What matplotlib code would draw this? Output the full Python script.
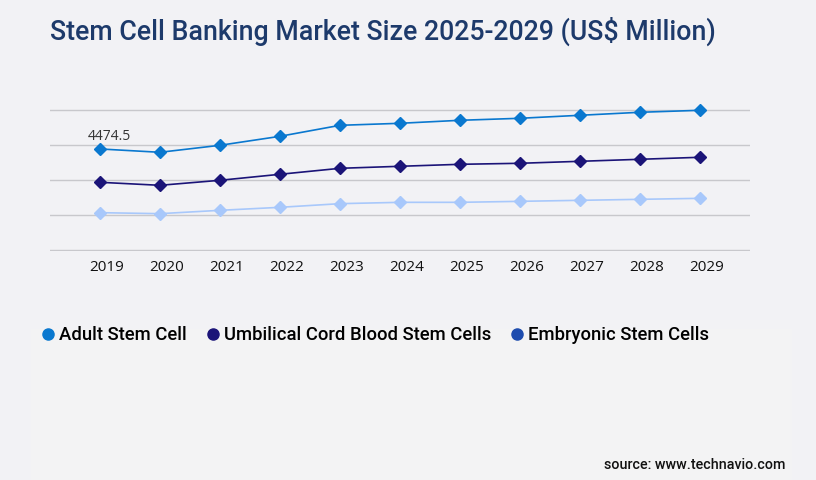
import matplotlib.pyplot as plt
import matplotlib.patches as mpatches
import matplotlib.transforms as mtransforms
from matplotlib.lines import Line2D

years = ["2019", "2020", "2021", "2022", "2023", "2024",
         "2025", "2026", "2027", "2028", "2029"]
adult = [4474.5, 4327, 4637, 5035, 5522, 5611, 5744, 5833, 5966, 6099, 6187]
cord = [2998, 2865, 3087, 3353, 3618, 3707, 3795, 3840, 3928, 4017, 4106]
embryonic = [1653, 1609, 1757, 1890, 2052, 2111, 2111, 2155, 2200, 2244, 2288]

series_names = ["Adult Stem Cell", "Umbilical Cord Blood Stem Cells",
                "Embryonic Stem Cells"]
line_colors = ["#0a78cf", "#1b1478", "#a8c8fb"]
legend_colors = ["#0a78cf", "#1b1478", "#1e4cae"]

bg = "#f2f2f5"
fig = plt.figure(figsize=(8.16, 4.8), dpi=100, facecolor=bg)

# slightly lighter panel behind legend / source
fig.patches.append(mpatches.Rectangle((31 / 816, 0), (792 - 31) / 816,
                                      (480 - 329) / 480,
                                      transform=fig.transFigure,
                                      facecolor="#f3f3f4", edgecolor="none",
                                      zorder=0))

fig.text(50 / 816, 1 - 31 / 480,
         "Stem Cell Banking Market Size 2025-2029 (US$ Million)",
         fontsize=19.3, fontfamily="Roboto", fontweight="medium",
         color="#1d3a6b", va="center", ha="left")

# axes: x from 50 to 750 px, y gridlines from 110 to 250 px
ax = fig.add_axes([50 / 816, 1 - 251 / 480, 700 / 816, 142 / 480])
ax.set_facecolor("none")
step = 1550
pad = step * 1 / 35
ax.set_ylim(-pad, 4 * step + pad)
ax.set_xlim(-0.833, 10.833)
ax.set_yticks([i * step for i in range(5)])
ax.yaxis.grid(True, color="#c8c8cc", linewidth=1)
ax.set_axisbelow(True)
for s in ax.spines.values():
    s.set_visible(False)
ax.tick_params(axis="y", left=False, labelleft=False)
ax.tick_params(axis="x", bottom=False, pad=3)
x = list(range(len(years)))
ax.set_xticks(x)
ax.set_xticklabels(years, fontsize=11, fontfamily="Open Sans", color="#111111")
shift = mtransforms.ScaledTranslation(7 / 100, 0, fig.dpi_scale_trans)
for lbl in ax.get_xticklabels():
    lbl.set_transform(lbl.get_transform() + shift)

for vals, c in zip([adult, cord, embryonic], line_colors):
    ax.plot(x, vals, color=c, linewidth=1.2, marker="D", markersize=6.5,
            markeredgecolor=c, clip_on=False, zorder=3)

ax.text(x[0] + 0.15, adult[0] + 220, f"{adult[0]:.1f}", fontsize=10,
        fontfamily="Open Sans", color="#333333", ha="center", va="bottom")

handles = [Line2D([], [], linestyle="none", marker="o", markersize=8,
                  color=c) for c in legend_colors]
leg = fig.legend(handles, series_names, loc="center left",
                 bbox_to_anchor=(22 / 816, 1 - 335 / 480), ncol=3,
                 frameon=False, handletextpad=0.1, columnspacing=0.9,
                 handlelength=1.0,
                 prop={"family": "Roboto", "weight": "medium", "size": 13.3})

fig.text(785 / 816, 1 - 465 / 480, "source: www.technavio.com",
         fontsize=10.3, fontfamily="Roboto", fontweight="medium",
         color="#111111", ha="right", va="center")

fig.savefig("out.png", dpi=100, facecolor=bg)
